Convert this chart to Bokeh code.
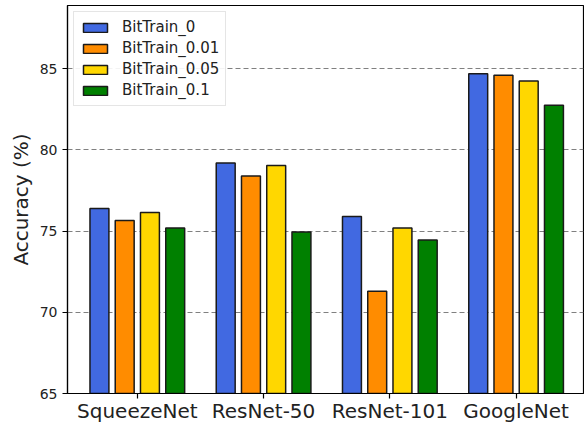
import numpy as np
from bokeh.plotting import figure
from bokeh.models import FixedTicker, Range1d, Legend
from bokeh.embed import file_html
from bokeh.resources import INLINE

categories = ["SqueezeNet", "ResNet-50", "ResNet-101", "GoogleNet"]
series_names = ["BitTrain_0", "BitTrain_0.01", "BitTrain_0.05", "BitTrain_0.1"]
bittrain_0 = [76.4, 79.2, 75.9, 84.7]
bittrain_001 = [75.65, 78.4, 71.3, 84.6]
bittrain_005 = [76.15, 79.05, 75.2, 84.25]
bittrain_01 = [75.2, 74.95, 74.45, 82.75]
colors = ["#4169E1", "#FF8C00", "#FFD700", "#008000"]
y_ticks = [65, 70, 75, 80, 85]

series = [bittrain_0, bittrain_001, bittrain_005, bittrain_01]
offsets = [-0.3, -0.1, 0.1, 0.3]
bar_width = 0.15
font = "DejaVu Sans"

p = figure(width=584, height=425, output_backend="svg", toolbar_location=None,
           x_range=Range1d(-0.553, 3.534), y_range=Range1d(65, 88.9),
           min_border_left=67, min_border_right=1, min_border_top=5, min_border_bottom=0,
           background_fill_color="white", border_fill_color="white")

base_x = np.arange(len(categories))
items = []
for name, vals, col, off in zip(series_names, series, colors, offsets):
    r = p.vbar(x=base_x + off, top=vals, bottom=65, width=bar_width,
               fill_color=col, line_color="#1a1a1a", line_width=1.5)
    items.append((name, [r]))

legend = Legend(items=items, location="top_left")
legend.label_text_font = font
legend.label_text_font_size = "15px"
legend.label_text_color = "#222222"
legend.glyph_width = 30
legend.glyph_height = 11
legend.label_height = 17
legend.spacing = 3
legend.padding = 6
legend.margin = 6
legend.label_standoff = 12
legend.border_line_color = "#cccccc"
legend.border_line_width = 1
legend.background_fill_alpha = 0.9
p.add_layout(legend)

p.xaxis.ticker = FixedTicker(ticks=list(base_x))
p.xaxis.major_label_overrides = {int(i): c for i, c in zip(base_x, categories)}
p.yaxis.ticker = FixedTicker(ticks=y_ticks)

for ax in (p.xaxis, p.yaxis):
    ax.axis_line_color = "black"
    ax.axis_line_width = 1.2
    ax.major_tick_line_color = "black"
    ax.major_tick_line_width = 1.2
    ax.major_tick_out = 5
    ax.major_tick_in = 0
    ax.minor_tick_line_color = None
    ax.major_label_text_font = font
    ax.major_label_text_color = "#222222"

p.xaxis.major_label_text_font_size = "20px"
p.xaxis.major_label_standoff = 0
p.yaxis.major_label_text_font_size = "14px"
p.yaxis.major_label_standoff = 5
p.yaxis.axis_label = "Accuracy (%)"
p.yaxis.axis_label_text_font = font
p.yaxis.axis_label_text_font_size = "20px"
p.yaxis.axis_label_text_font_style = "normal"
p.yaxis.axis_label_text_color = "#222222"
p.yaxis.axis_label_standoff = 4

p.xgrid.grid_line_color = None
p.ygrid.grid_line_color = "#808080"
p.ygrid.grid_line_dash = "5 3"
p.ygrid.grid_line_width = 1

p.outline_line_color = "black"
p.outline_line_width = 1.2
p.outline_line_alpha = 1

open("out.html", "w").write(file_html(p, INLINE))
